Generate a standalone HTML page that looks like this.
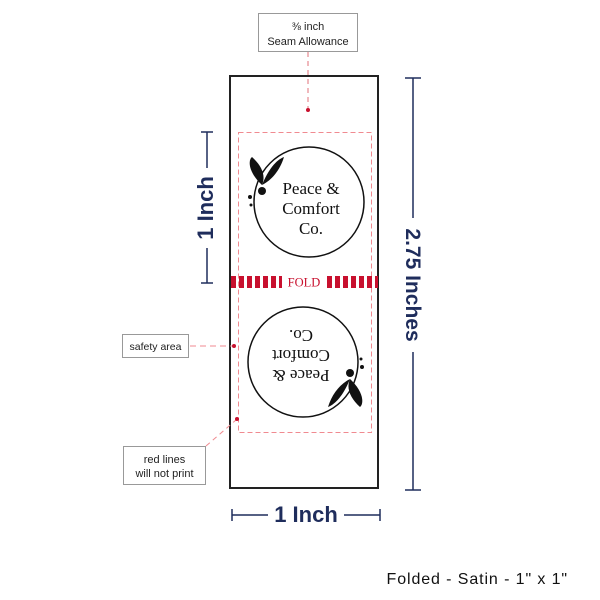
<!DOCTYPE html>
<html><head><style>body{margin:0;background:#fff}svg{display:block}</style></head><body>
<svg width="600" height="600" viewBox="0 0 600 600" xmlns="http://www.w3.org/2000/svg">
<rect width="600" height="600" fill="#fff"/>
<rect x="258.5" y="13.5" width="99" height="38" fill="#fff" stroke="#999"/>
<text x="308" y="30" font-family="Liberation Sans, sans-serif" font-size="11" text-anchor="middle" fill="#222">⅜ inch</text>
<text x="308" y="45" font-family="Liberation Sans, sans-serif" font-size="11" text-anchor="middle" fill="#222">Seam Allowance</text>
<line x1="308" y1="52" x2="308" y2="108" stroke="#e0707a" stroke-dasharray="5,4"/>
<circle cx="308" cy="110" r="2" fill="#c8102e"/>
<rect x="230" y="76" width="148" height="412" fill="none" stroke="#222" stroke-width="2"/>
<rect x="238.5" y="132.5" width="133" height="300" fill="none" stroke="#f08a90" stroke-dasharray="5,3"/>
<g fill="#c8102e">
<rect x="231" y="276" width="5" height="12"/><rect x="239" y="276" width="5" height="12"/><rect x="247" y="276" width="5" height="12"/><rect x="255" y="276" width="5" height="12"/><rect x="263" y="276" width="5" height="12"/><rect x="271" y="276" width="5" height="12"/><rect x="279" y="276" width="3" height="12"/>
<rect x="327" y="276" width="5" height="12"/><rect x="335" y="276" width="5" height="12"/><rect x="343" y="276" width="5" height="12"/><rect x="351" y="276" width="5" height="12"/><rect x="359" y="276" width="5" height="12"/><rect x="367" y="276" width="5" height="12"/><rect x="375" y="276" width="3" height="12"/>
</g>
<text x="304" y="286.5" font-family="Liberation Serif, serif" font-size="12.5" text-anchor="middle" fill="#c8102e">FOLD</text>
<g id="logo">
<circle cx="309" cy="202" r="55" fill="none" stroke="#111" stroke-width="1.5"/>
<path d="M262 185 C248 172 248 160 252 157 C262 166 266 176 262 185Z" fill="#111"/>
<path d="M262 185 C268 170 276 160 284 157 C280 170 272 180 262 185Z" fill="#111"/>
<circle cx="262" cy="191" r="4" fill="#111"/>
<circle cx="250" cy="197" r="2" fill="#111"/>
<circle cx="251" cy="205" r="1.5" fill="#111"/>
<g font-family="Liberation Serif, serif" font-size="17" text-anchor="middle" fill="#111">
<text x="311" y="194">Peace &amp;</text>
<text x="311" y="214">Comfort</text>
<text x="311" y="234">Co.</text>
</g>
</g>
<use href="#logo" transform="rotate(180 306 282)" />
<rect x="122.5" y="334.5" width="66" height="23" fill="#fff" stroke="#999"/>
<text x="155.5" y="350" font-family="Liberation Sans, sans-serif" font-size="10.5" text-anchor="middle" fill="#222">safety area</text>
<line x1="190" y1="346" x2="232" y2="346" stroke="#f08a90" stroke-dasharray="6,4"/>
<circle cx="234" cy="346" r="2" fill="#c8102e"/>
<rect x="123.5" y="446.5" width="82" height="38" fill="#fff" stroke="#999"/>
<text x="164.5" y="463" font-family="Liberation Sans, sans-serif" font-size="11" text-anchor="middle" fill="#222">red lines</text>
<text x="164.5" y="477" font-family="Liberation Sans, sans-serif" font-size="11" text-anchor="middle" fill="#222">will not print</text>
<line x1="206" y1="446" x2="236" y2="420" stroke="#f08a90" stroke-dasharray="5,4"/>
<circle cx="237" cy="419" r="2" fill="#c8102e"/>
<g stroke="#1f2d5c" stroke-width="1.5" fill="none">
<line x1="413" y1="78" x2="413" y2="218"/><line x1="405" y1="78" x2="421" y2="78"/>
<line x1="413" y1="352" x2="413" y2="490"/><line x1="405" y1="490" x2="421" y2="490"/>
<line x1="207" y1="132" x2="207" y2="168"/><line x1="201" y1="132" x2="213" y2="132"/>
<line x1="207" y1="248" x2="207" y2="283"/><line x1="201" y1="283" x2="213" y2="283"/>
<line x1="232" y1="515" x2="268" y2="515"/><line x1="232" y1="509" x2="232" y2="521"/>
<line x1="344" y1="515" x2="380" y2="515"/><line x1="380" y1="509" x2="380" y2="521"/>
</g>
<g font-family="Liberation Sans, sans-serif" font-size="22" font-weight="bold" fill="#1f2d5c" text-anchor="middle">
<text transform="translate(406 285) rotate(90)" font-size="21">2.75 Inches</text>
<text transform="translate(213 208) rotate(-90)">1 Inch</text>
<text x="306" y="522">1 Inch</text>
</g>
<text x="568" y="584" font-family="Liberation Sans, sans-serif" font-size="16" letter-spacing="0.9" text-anchor="end" fill="#111">Folded - Satin - 1" x 1"</text>
</svg>
</body></html>
